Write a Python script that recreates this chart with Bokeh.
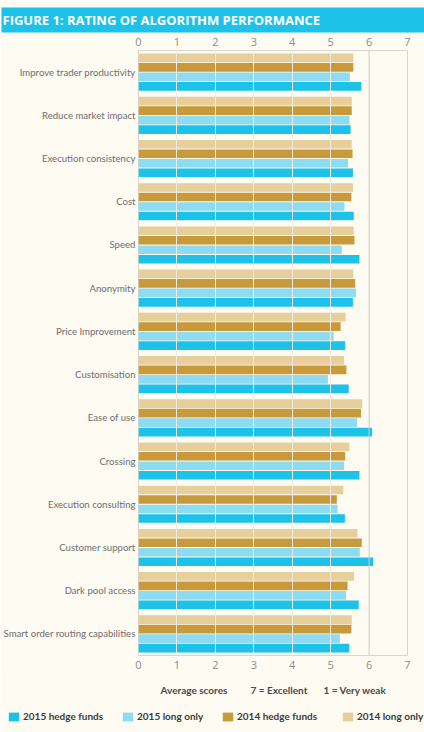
from bokeh.plotting import figure
from bokeh.layouts import column
from bokeh.models import (ColumnDataSource, FactorRange, Range1d, LinearAxis,
                          FixedTicker, Span, Label, Legend, LegendItem, Title)
from bokeh.transform import dodge
from bokeh.embed import file_html
from bokeh.resources import INLINE

# Criteria, listed top to bottom
categories = ["Improve trader productivity", "Reduce market impact",
              "Execution consistency", "Cost", "Speed", "Anonymity",
              "Price Improvement", "Customisation", "Ease of use", "Crossing",
              "Execution consulting", "Customer support", "Dark pool access",
              "Smart order routing capabilities"]

# Average scores per series (7 = excellent, 1 = very weak)
hedge_2015 = [5.80, 5.52, 5.58, 5.60, 5.75, 5.58, 5.38, 5.47, 6.08, 5.75, 5.37, 6.11, 5.73, 5.48]
long_2015 = [5.50, 5.49, 5.45, 5.36, 5.29, 5.66, 5.08, 4.93, 5.69, 5.35, 5.18, 5.76, 5.40, 5.24]
hedge_2014 = [5.59, 5.55, 5.57, 5.54, 5.62, 5.64, 5.26, 5.41, 5.79, 5.38, 5.16, 5.81, 5.44, 5.54]
long_2014 = [5.59, 5.55, 5.55, 5.58, 5.60, 5.59, 5.39, 5.35, 5.82, 5.49, 5.33, 5.70, 5.61, 5.55]

x_ticks = [0, 1, 2, 3, 4, 5, 6, 7]
legend_names = ["2015 hedge funds", "2015 long only", "2014 hedge funds", "2014 long only"]

BG = "#fefbf3"
CYAN = "#1dc2e8"
CYAN_LIGHT = "#8edcf1"
GOLD = "#c89a3b"
GOLD_LIGHT = "#e7cf9b"
colors = {"2015 hedge funds": CYAN, "2015 long only": CYAN_LIGHT,
          "2014 hedge funds": GOLD, "2014 long only": GOLD_LIGHT}

W = 424
FOOTER_H = 55
MAIN_H = 732 - FOOTER_H

source = ColumnDataSource(dict(cat=categories, hf15=hedge_2015, lo15=long_2015,
                               hf14=hedge_2014, lo14=long_2014))

p = figure(width=W, height=MAIN_H, output_backend="svg", toolbar_location=None,
           y_range=FactorRange(factors=categories[::-1]),
           x_range=Range1d(0, 7),
           min_border_left=137, min_border_right=17,
           min_border_top=50, min_border_bottom=MAIN_H - 50 - 605,
           frame_align=False)
p.background_fill_color = BG
p.border_fill_color = BG
p.outline_line_color = "#d9d5cc"
p.outline_line_width = 1

h = 0.2
series = [("lo14", 0.33, "2014 long only"),
          ("hf14", 0.11, "2014 hedge funds"),
          ("lo15", -0.11, "2015 long only"),
          ("hf15", -0.33, "2015 hedge funds")]
for col, off, name in series:
    p.hbar(y=dodge("cat", off, range=p.y_range), left=0, right=col,
           height=h, source=source, fill_color=colors[name], line_color=None)

# vertical guides drawn over the bars
p.xgrid.ticker = FixedTicker(ticks=[1, 2, 3, 4, 5])
p.xgrid.grid_line_color = "#efece6"
p.xgrid.grid_line_width = 1
p.xgrid.level = "annotation"
p.ygrid.grid_line_color = None
p.add_layout(Span(location=6, dimension="height", line_color="#d2cdc3", line_width=1))


def style_axis(ax):
    ax.axis_line_color = None
    ax.major_tick_line_color = None
    ax.minor_tick_line_color = None
    ax.major_tick_out = 0
    ax.major_tick_in = 0
    ax.minor_tick_out = 0
    ax.minor_tick_in = 0


def style_x(ax):
    style_axis(ax)
    ax.ticker = FixedTicker(ticks=x_ticks)
    ax.major_label_text_color = "#8c8c8c"
    ax.major_label_text_font = "Open Sans"
    ax.major_label_text_font_size = "11px"
    ax.major_label_standoff = 5


style_x(p.xaxis[0])
top_axis = LinearAxis()
style_x(top_axis)
p.add_layout(top_axis, "above")

ya = p.yaxis[0]
style_axis(ya)
ya.major_label_text_color = "#6e6e6e"
ya.major_label_text_font = "Lato"
ya.major_label_text_font_size = "9.6px"
ya.major_label_standoff = 3

# banner title
p.title = Title(text="FIGURE 1: RATING OF ALGORITHM PERFORMANCE", align="left",
                offset=-137, standoff=4, text_font="Open Sans", text_font_style="bold",
                text_font_size="13px", text_color="white",
                background_fill_color=CYAN,
                padding=dict(left=1, right=140, top=3, bottom=4))

# ---- footer: scale note and legend ----
footer = figure(width=W, height=FOOTER_H, output_backend="svg", toolbar_location=None,
                x_range=Range1d(0, W), y_range=Range1d(FOOTER_H, 0),
                min_border=0, x_axis_type=None, y_axis_type=None, frame_align=False)
footer.background_fill_color = BG
footer.border_fill_color = BG
footer.outline_line_color = None
footer.grid.visible = False

note_style = dict(text_font="Lato", text_font_style="bold", text_font_size="10px",
                  text_color="#4a4a4a", text_baseline="middle")
for xs, txt in [(160, "Average scores"), (250, "7 = Excellent"), (323, "1 = Very weak")]:
    footer.add_layout(Label(x=xs, y=12, text=txt, **note_style))

legend_x = [7, 121, 221, 341]
for name, lx in zip(legend_names, legend_x):
    swatch = footer.hbar(y=[0], left=[0], right=[0], height=0,
                         fill_color=colors[name], line_color=None)
    lg = Legend(items=[LegendItem(label=name, renderers=[swatch])],
                location=(lx, 10),
                glyph_width=13, glyph_height=11, label_standoff=3, spacing=0,
                padding=0, margin=0, border_line_color=None, background_fill_alpha=0,
                label_text_font="Lato", label_text_font_style="bold",
                label_text_font_size="10px", label_text_color="#3c3c3c",
                label_height=11)
    footer.add_layout(lg, "center")

layout = column(p, footer, spacing=0)
open("out.html", "w").write(file_html(layout, INLINE))
